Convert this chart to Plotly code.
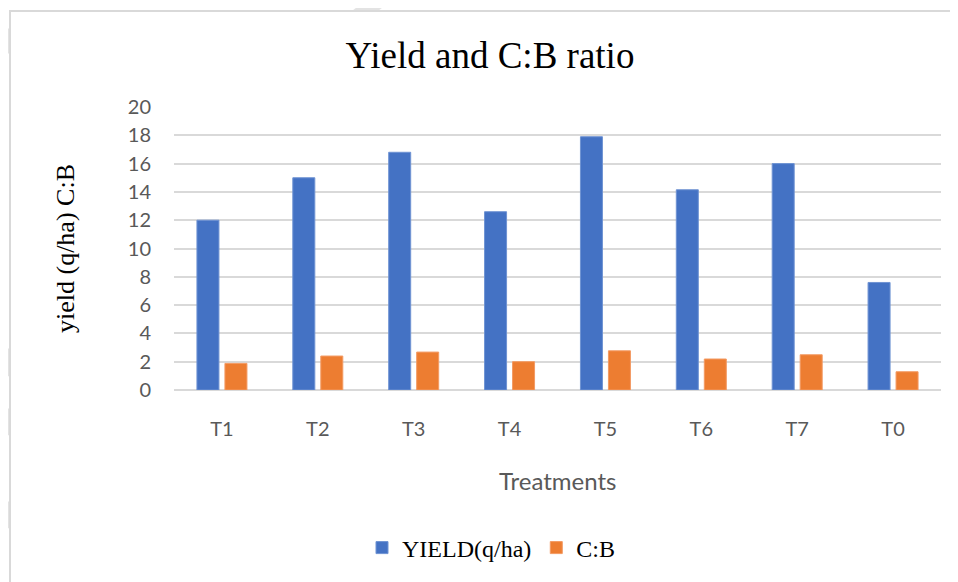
import plotly.graph_objects as go

categories = ["T1", "T2", "T3", "T4", "T5", "T6", "T7", "T0"]
yield_qha = [12.0, 15.0, 16.8, 12.6, 17.9, 14.15, 16.0, 7.6]
cb_ratio = [1.88, 2.4, 2.68, 2.0, 2.77, 2.19, 2.49, 1.29]
y_ticks = [0, 2, 4, 6, 8, 10, 12, 14, 16, 18, 20]

BLUE = "#4472C4"
ORANGE = "#ED7D31"
GRID = "#D9D9D9"
TXT = "#595959"

# page has an 8px body margin; figure coordinates are screen - 8
W, H = 950, 574
L, R, T, B = 166, 17, 99, 192
PW, PH = W - L - R, H - T - B


def px(sx):
    return (sx - 8 - L) / PW


def py(sy):
    return (H - B - (sy - 8)) / PH


fig = go.Figure()
fig.add_trace(go.Bar(name="YIELD(q/ha)", x=categories, y=yield_qha,
                     marker=dict(color=BLUE, line=dict(color="#6F93D3", width=1))))
fig.add_trace(go.Bar(name="C:B", x=categories, y=cb_ratio,
                     marker=dict(color=ORANGE, line=dict(color="#F39A63", width=1))))

stripes = [
    # faint watermark fragments
    [(352, 11), (366, 0), (392, 0), (378, 11)],
    [(10, 30), (0, 20), (0, 45), (10, 55)],
    [(10, 410), (0, 400), (0, 425), (10, 437)],
    [(10, 503), (0, 493), (0, 518), (10, 530)],
    [(10, 347), (0, 357), (0, 372), (10, 377)],
]
shapes = []
for poly in stripes:
    path = "M " + " L ".join(f"{px(x)},{py(y)}" for x, y in poly) + " Z"
    shapes.append(dict(type="path", xref="paper", yref="paper", path=path,
                       fillcolor="#E3E3E3", line=dict(width=0), layer="below"))
shapes.append(dict(type="rect", xref="paper", yref="paper", x0=px(10), x1=px(1000),
                   y0=py(640), y1=py(11), line=dict(color=GRID, width=2),
                   fillcolor="rgba(0,0,0,0)", layer="below"))

fig.update_layout(
    width=W, height=H,
    margin=dict(l=L, r=R, t=T, b=B, autoexpand=False),
    paper_bgcolor="white", plot_bgcolor="white",
    barmode="group", bargap=0.416, bargroupgap=0.214,
    showlegend=True,
    legend=dict(orientation="h", x=px(362), xanchor="left", y=py(548), yanchor="middle",
                font=dict(family="Liberation Serif", size=24, color="black"),
                itemwidth=30, traceorder="normal", bgcolor="rgba(0,0,0,0)"),
    title=dict(text="Yield and C:B ratio", x=(490 - 8) / W, xanchor="center",
               y=1 - (55 - 8) / H, yanchor="middle",
               font=dict(family="Liberation Serif", size=37, color="black")),
    xaxis=dict(showgrid=False, showline=False, zeroline=False, ticks="",
               tickfont=dict(family="Lato", size=20, color=TXT), ticklabelstandoff=25),
    yaxis=dict(range=[0, 20], tickvals=y_ticks, showgrid=True, gridcolor=GRID, gridwidth=1.5,
               zeroline=True, zerolinecolor=GRID, zerolinewidth=1.5, showline=False, ticks="",
               tickfont=dict(family="Lato", size=20, color=TXT), ticklabelstandoff=22),
    annotations=[
        dict(text="Treatments", xref="paper", yref="paper", x=px(557), y=py(480), xanchor="center",
             yanchor="middle", showarrow=False, font=dict(family="Lato", size=24, color=TXT)),
        dict(text="yield (q/ha) C:B", xref="paper", yref="paper", x=px(65), y=py(249),
             xanchor="center", yanchor="middle", textangle=-90, showarrow=False,
             font=dict(family="Liberation Serif", size=26, color="black")),
    ],
    shapes=shapes,
)

fig.write_html("out.html")
